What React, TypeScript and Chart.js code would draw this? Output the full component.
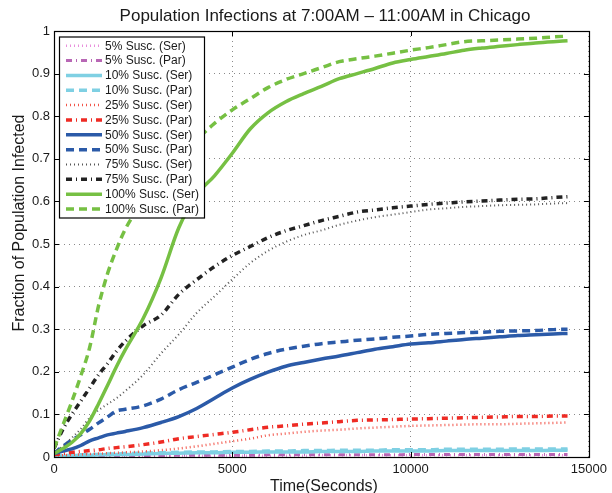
import React, { useEffect, useRef } from "react";
import { Chart, registerables } from "chart.js";

Chart.register(...registerables);

const chartTitle = "Population Infections at 7:00AM \u2013 11:00AM in Chicago";
const xTitle = "Time(Seconds)";
const yTitle = "Fraction of Population Infected";

const xTickLabels = ["0", "5000", "10000", "15000"];
const yTickLabels = ["0", "0.1", "0.2", "0.3", "0.4", "0.5", "0.6", "0.7", "0.8", "0.9", "1"];

const timeSeconds = [0, 250, 500, 750, 1000, 1250, 1500, 1750, 2000, 2500, 3000, 3500, 4000, 4500, 5000, 5500, 6000, 6500, 7000, 7500, 8000, 8500, 9000, 9500, 10000, 10500, 11000, 11500, 12000, 12500, 13000, 13500, 14000, 14400];

const s5Ser = [0.001, 0.001, 0.001, 0.001, 0.001, 0.002, 0.002, 0.002, 0.002, 0.002, 0.002, 0.003, 0.003, 0.003, 0.003, 0.003, 0.003, 0.003, 0.003, 0.004, 0.004, 0.004, 0.004, 0.004, 0.004, 0.004, 0.004, 0.004, 0.004, 0.004, 0.004, 0.004, 0.004, 0.004];
const s5Par = [0.001, 0.001, 0.001, 0.002, 0.002, 0.002, 0.002, 0.003, 0.003, 0.003, 0.003, 0.004, 0.004, 0.004, 0.004, 0.004, 0.005, 0.005, 0.005, 0.005, 0.005, 0.005, 0.005, 0.005, 0.006, 0.006, 0.006, 0.006, 0.006, 0.006, 0.006, 0.006, 0.006, 0.006];
const s10Ser = [0.002, 0.002, 0.003, 0.004, 0.004, 0.005, 0.005, 0.006, 0.006, 0.007, 0.008, 0.009, 0.01, 0.01, 0.011, 0.011, 0.012, 0.012, 0.012, 0.013, 0.013, 0.013, 0.014, 0.014, 0.014, 0.014, 0.015, 0.015, 0.015, 0.015, 0.015, 0.015, 0.016, 0.016];
const s10Par = [0.002, 0.003, 0.004, 0.005, 0.006, 0.006, 0.007, 0.007, 0.008, 0.009, 0.01, 0.011, 0.012, 0.012, 0.013, 0.013, 0.014, 0.014, 0.015, 0.015, 0.016, 0.016, 0.016, 0.017, 0.017, 0.017, 0.018, 0.018, 0.018, 0.018, 0.019, 0.019, 0.019, 0.019];
const s25Ser = [0.003, 0.004, 0.005, 0.006, 0.007, 0.008, 0.009, 0.01, 0.011, 0.013, 0.016, 0.02, 0.025, 0.031, 0.037, 0.043, 0.051, 0.055, 0.059, 0.062, 0.064, 0.067, 0.069, 0.071, 0.073, 0.074, 0.075, 0.076, 0.077, 0.077, 0.078, 0.079, 0.08, 0.081];
const s25Par = [0.005, 0.008, 0.011, 0.013, 0.015, 0.017, 0.02, 0.022, 0.024, 0.029, 0.035, 0.043, 0.048, 0.053, 0.058, 0.064, 0.07, 0.073, 0.077, 0.08, 0.083, 0.086, 0.087, 0.088, 0.089, 0.09, 0.091, 0.092, 0.093, 0.094, 0.095, 0.095, 0.096, 0.096];
const s50Ser = [0.008, 0.014, 0.019, 0.027, 0.038, 0.045, 0.052, 0.056, 0.06, 0.069, 0.081, 0.095, 0.114, 0.138, 0.162, 0.182, 0.199, 0.213, 0.222, 0.23, 0.237, 0.245, 0.253, 0.259, 0.265, 0.268, 0.272, 0.276, 0.279, 0.282, 0.285, 0.287, 0.289, 0.29];
const s50Par = [0.008, 0.025, 0.04, 0.052, 0.065, 0.08, 0.094, 0.108, 0.112, 0.12, 0.136, 0.158, 0.175, 0.193, 0.211, 0.229, 0.243, 0.253, 0.26, 0.266, 0.27, 0.274, 0.277, 0.281, 0.284, 0.288, 0.29, 0.292, 0.293, 0.295, 0.296, 0.297, 0.299, 0.3];
const s75Ser = [0.01, 0.025, 0.045, 0.066, 0.092, 0.11, 0.124, 0.138, 0.155, 0.193, 0.243, 0.288, 0.338, 0.377, 0.417, 0.455, 0.484, 0.505, 0.521, 0.532, 0.545, 0.555, 0.563, 0.569, 0.575, 0.581, 0.584, 0.587, 0.589, 0.591, 0.592, 0.593, 0.595, 0.596];
const s75Par = [0.02, 0.065, 0.1, 0.131, 0.162, 0.193, 0.219, 0.248, 0.272, 0.308, 0.333, 0.382, 0.416, 0.447, 0.473, 0.494, 0.515, 0.531, 0.543, 0.555, 0.565, 0.575, 0.58, 0.585, 0.589, 0.593, 0.596, 0.599, 0.601, 0.603, 0.605, 0.606, 0.609, 0.611];
const s100Ser = [0.008, 0.02, 0.034, 0.055, 0.085, 0.125, 0.168, 0.212, 0.252, 0.325, 0.42, 0.538, 0.615, 0.66, 0.713, 0.77, 0.808, 0.834, 0.853, 0.87, 0.888, 0.9, 0.912, 0.925, 0.933, 0.94, 0.947, 0.955, 0.96, 0.964, 0.968, 0.972, 0.975, 0.977];
const s100Par = [0.02, 0.075, 0.13, 0.19, 0.257, 0.355, 0.43, 0.487, 0.535, 0.6, 0.655, 0.705, 0.745, 0.783, 0.815, 0.841, 0.867, 0.886, 0.9, 0.914, 0.928, 0.935, 0.941, 0.948, 0.955, 0.961, 0.968, 0.975, 0.977, 0.979, 0.981, 0.983, 0.986, 0.988];

const seriesLabels = [
  "5% Susc. (Ser)", "5% Susc. (Par)",
  "10% Susc. (Ser)", "10% Susc. (Par)",
  "25% Susc. (Ser)", "25% Susc. (Par)",
  "50% Susc. (Ser)", "50% Susc. (Par)",
  "75% Susc. (Ser)", "75% Susc. (Par)",
  "100% Susc. (Ser)", "100% Susc. (Par)",
];
const seriesValues = [s5Ser, s5Par, s10Ser, s10Par, s25Ser, s25Par, s50Ser, s50Par, s75Ser, s75Par, s100Ser, s100Par];

const DOT = [1, 3];
const DASH = [8, 5];
const DASHDOT = [6, 4, 1, 4];
const seriesStyles = [
  { color: "#e98fdc", dash: DOT, width: 2.5 },
  { color: "#b867b5", dash: DASHDOT, width: 3 },
  { color: "#7fd0e3", dash: [], width: 3.5 },
  { color: "#7fd0e3", dash: DASH, width: 3.5 },
  { color: "#f2554a", dash: DOT, width: 2.5 },
  { color: "#ee2b24", dash: DASHDOT, width: 3.5 },
  { color: "#2b5aa8", dash: [], width: 3.5 },
  { color: "#2b5aa8", dash: DASH, width: 3.5 },
  { color: "#555555", dash: DOT, width: 2 },
  { color: "#222222", dash: DASHDOT, width: 3.5 },
  { color: "#76c043", dash: [], width: 3.5 },
  { color: "#76c043", dash: DASH, width: 3.5 },
];

const FONT = "'Liberation Sans', Arial, Helvetica, sans-serif";

const framePlugin = {
  id: "frame",
  afterDraw(chart: any) {
    const { ctx, chartArea } = chart;
    const { left, right, top, bottom } = chartArea;
    const xs = chart.scales.x;
    const ys = chart.scales.y;
    ctx.save();
    // inward tick marks
    ctx.strokeStyle = "#000";
    ctx.lineWidth = 1;
    ctx.setLineDash([]);
    const tl = 5;
    ctx.beginPath();
    xs.ticks.forEach((t: any) => {
      const px = Math.round(xs.getPixelForValue(t.value)) + 0.5;
      ctx.moveTo(px, bottom);
      ctx.lineTo(px, bottom - tl);
      ctx.moveTo(px, top);
      ctx.lineTo(px, top + tl);
    });
    ys.ticks.forEach((t: any) => {
      const py = Math.round(ys.getPixelForValue(t.value)) + 0.5;
      ctx.moveTo(left, py);
      ctx.lineTo(left + tl, py);
      ctx.moveTo(right, py);
      ctx.lineTo(right - tl, py);
    });
    ctx.stroke();
    // frame box
    ctx.lineWidth = 1.2;
    ctx.strokeRect(Math.round(left) + 0.5, Math.round(top) + 0.5, Math.round(right - left), Math.round(bottom - top));

    // legend
    const lx = 59, ly = 36.5, lw = 145, lh = 181;
    ctx.fillStyle = "#fff";
    ctx.fillRect(lx, ly, lw, lh);
    ctx.lineWidth = 1.2;
    ctx.strokeStyle = "#000";
    ctx.strokeRect(lx + 0.5, ly + 0.5, lw, lh);
    ctx.font = `12px ${FONT}`;
    ctx.textBaseline = "middle";
    ctx.textAlign = "left";
    chart.data.datasets.forEach((ds: any, i: number) => {
      const y = 45.7 + i * 14.85;
      ctx.beginPath();
      ctx.strokeStyle = ds.borderColor;
      ctx.lineWidth = ds.borderWidth;
      ctx.setLineDash(ds.borderDash || []);
      ctx.moveTo(66, y);
      ctx.lineTo(102, y);
      ctx.stroke();
      ctx.setLineDash([]);
      ctx.fillStyle = "#1a1a1a";
      ctx.fillText(ds.label, 105, y + 0.5);
    });

    // titles
    ctx.fillStyle = "#1a1a1a";
    ctx.textAlign = "center";
    ctx.textBaseline = "alphabetic";
    ctx.font = `17px ${FONT}`;
    ctx.fillText(chartTitle, 325, 21);
    ctx.font = `16px ${FONT}`;
    ctx.fillText(xTitle, 324, 491);
    ctx.translate(23.5, 223);
    ctx.rotate(-Math.PI / 2);
    ctx.fillText(yTitle, 0, 0);
    ctx.restore();
  },
};

export default function App() {
  const canvasRef = useRef<HTMLCanvasElement | null>(null);

  useEffect(() => {
    const canvas = canvasRef.current;
    if (!canvas) return;
    const datasets = seriesLabels.map((label, i) => ({
      label,
      data: timeSeconds.map((t, j) => ({ x: t, y: seriesValues[i][j] })),
      borderColor: seriesStyles[i].color,
      backgroundColor: seriesStyles[i].color,
      borderDash: seriesStyles[i].dash,
      borderWidth: seriesStyles[i].width,
      pointRadius: 0,
      cubicInterpolationMode: "monotone" as const,
      fill: false,
      order: seriesLabels.length - i,
    }));
    const chart = new Chart(canvas, {
      type: "line",
      data: { datasets },
      options: {
        responsive: false,
        animation: false,
        devicePixelRatio: 1,
        layout: { padding: { left: 0, top: 31, right: 18, bottom: 0 } },
        plugins: {
          legend: { display: false },
          title: { display: false },
          tooltip: { enabled: false },
        },
        scales: {
          x: {
            type: "linear",
            min: 0,
            max: 15000,
            afterFit: (s: any) => { s.height = 36; },
            afterBuildTicks: (s: any) => {
              s.ticks = xTickLabels.map((l) => ({ value: Number(l) }));
            },
            ticks: {
              stepSize: 5000,
              padding: 5,
              color: "#1a1a1a",
              font: { family: FONT, size: 13 },
              maxRotation: 0,
              callback: (v: any, i: number) => xTickLabels[i],
            },
            grid: { color: "#8a8a8a", lineWidth: 1, drawTicks: false },
            border: { display: false, dash: [1, 4] },
          },
          y: {
            type: "linear",
            min: 0,
            max: 1,
            afterFit: (s: any) => { s.width = 54; },
            afterBuildTicks: (s: any) => {
              s.ticks = yTickLabels.map((l) => ({ value: Number(l) }));
            },
            ticks: {
              stepSize: 0.1,
              padding: 4,
              color: "#1a1a1a",
              font: { family: FONT, size: 13 },
              callback: (v: any, i: number) => yTickLabels[i],
            },
            grid: { color: "#8a8a8a", lineWidth: 1, drawTicks: false },
            border: { display: false, dash: [1, 4] },
          },
        },
      },
      plugins: [framePlugin],
    });
    return () => chart.destroy();
  }, []);

  return (
    <div style={{ position: "fixed", left: 0, top: 0, width: 612, height: 493, background: "#fff" }}>
      <canvas ref={canvasRef} width={612} height={493} style={{ width: 612, height: 493, display: "block" }} />
    </div>
  );
}
